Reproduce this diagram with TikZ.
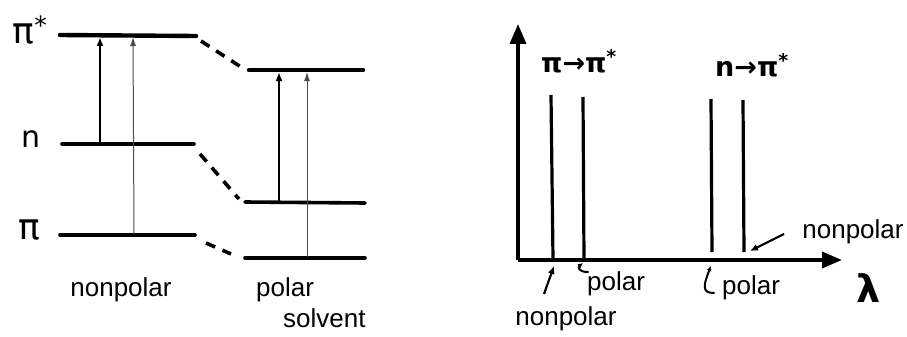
\documentclass[tikz,border=0pt]{standalone}
\usepackage{fontspec}
\setmainfont{Liberation Sans}
\newfontfamily\symf{DejaVu Sans}
\usetikzlibrary{arrows.meta}
\begin{document}
\begin{tikzpicture}[x=1pt,y=-1pt,
  level/.style={line width=3.6pt,line cap=round},
  toplevel/.style={line width=4.4pt,line cap=round},
  corr/.style={line width=3.6pt,dash pattern=on 10pt off 8pt},
  trans/.style={line width=2pt,-{Latex[length=9pt,width=7pt]}},
  transthin/.style={line width=1pt,gray!60!black,-{Latex[length=9pt,width=6pt]}},
  peak/.style={line width=3.2pt},
  axis/.style={line width=3.6pt,-{Triangle[length=20pt,width=16pt]}},
  lab/.style={font=\fontsize{26}{28}\selectfont,inner sep=0pt},
  sym/.style={font=\symf\fontsize{30}{32}\selectfont,inner sep=0pt},
  bsym/.style={font=\symf\bfseries\fontsize{27}{30}\selectfont,inner sep=0pt},
  ptr/.style={line width=2.2pt,-{Latex[length=8pt,width=7pt]}},
  hook/.style={line width=2pt,line cap=round,-{Latex[length=5pt,width=5pt]}}]
\useasboundingbox (0,0) rectangle (907,337);
% ---------------- left: energy levels ----------------
\coordinate (pisA) at (60,35);  \coordinate (pisB) at (196,36);
\coordinate (nA)   at (62,144); \coordinate (nB)   at (194,144);
\coordinate (piA)  at (60,235); \coordinate (piB)  at (195,235);
\coordinate (ppisA) at (249,70);  \coordinate (ppisB) at (363,70);
\coordinate (pnA)   at (245,202); \coordinate (pnB)   at (365,203);
\coordinate (ppiA)  at (245,258); \coordinate (ppiB)  at (365,258);
\draw[toplevel] (pisA) -- (pisB);
\draw[level] (nA) -- (nB);
\draw[level] (piA) -- (piB);
\draw[toplevel] (ppisA) -- (ppisB);
\draw[level] (pnA) -- (pnB);
\draw[level] (ppiA) -- (ppiB);
% correlation lines
\draw[corr] ([shift={(5,5)}]pisB) -- ([shift={(-8,-3)}]ppisA);
\draw[corr] ([shift={(6,10)}]nB) -- ([shift={(-6,-3)}]pnA);
\draw[corr] ([shift={(11,8)}]piB) -- ([shift={(-14,-4)}]ppiA);
% transitions
\coordinate (t1s) at (100,143); \coordinate (t1e) at (100,37);
\coordinate (t2s) at (134,234); \coordinate (t2e) at (133,37);
\coordinate (t3s) at (279,201); \coordinate (t3e) at (279,72);
\coordinate (t4s) at (307,257); \coordinate (t4e) at (307,72);
\draw[trans] (t1s) -- (t1e);
\draw[transthin] (t2s) -- (t2e);
\draw[trans] (t3s) -- (t3e);
\draw[transthin] (t4s) -- (t4e);
% labels
\node[font=\symf\fontsize{36}{38}\selectfont,inner sep=0pt] (lpis) at (30,30) {π\textsuperscript{*}};
\node[sym] (ln) at (31,139) {n};
\node[font=\symf\fontsize{36}{38}\selectfont,inner sep=0pt] (lpi) at (29,230) {π};
\node[lab] (lnp) at (121,290) {nonpolar};
\node[lab,anchor=west] (lpol) at (256,290) {polar};
\node[lab,anchor=west] (lsol) at (283,318) {solvent};
% ---------------- right: spectrum ----------------
\coordinate (O) at (518,260);
\coordinate (Y) at (518,24);
\coordinate (X) at (842,260);
\draw[axis] (O) -- (Y);
\draw[axis] (O) -- (X);
\coordinate (p1t) at (551,95);  \coordinate (p1b) at (553,259);
\coordinate (p2t) at (583,97);  \coordinate (p2b) at (584,259);
\coordinate (p3t) at (711,99);  \coordinate (p3b) at (712,252);
\coordinate (p4t) at (743,100); \coordinate (p4b) at (744,252);
\draw[peak] (p1t) -- (p1b);
\draw[peak] (p2t) -- (p2b);
\draw[peak] (p3t) -- (p3b);
\draw[peak] (p4t) -- (p4b);
\node[bsym] (lpp) at (579,61) {π→π\textsuperscript{*}};
\node[bsym] (lnp2) at (752,65) {n→π\textsuperscript{*}};
\node[font=\symf\bfseries\fontsize{38}{40}\selectfont,inner sep=0pt] (llam) at (869,288) {λ};
% annotations
\node[lab] (rnp) at (853,232) {nonpolar};
\coordinate (rnpa) at (784,234); \coordinate (rnpb) at (750,251);
\draw[ptr] (rnpa) -- (rnpb);
\coordinate (bnpa) at (544,294); \coordinate (bnpb) at (554,266);
\draw[ptr] (bnpa) -- (bnpb);
\node[lab] (bnp) at (566,319) {nonpolar};
\node[lab,anchor=west] (bpol1) at (587,284) {polar};
\coordinate (h1a) at (588,272); \coordinate (h1b) at (583,263);
\draw[hook] (h1a) .. controls (578,272) and (578,267) .. (h1b);
\node[lab,anchor=west] (bpol2) at (722,288) {polar};
\coordinate (h2a) at (714,293); \coordinate (h2b) at (711,266);
\draw[hook] (h2a) .. controls (702,293) and (703,286) .. (h2b);
\end{tikzpicture}
\end{document}
